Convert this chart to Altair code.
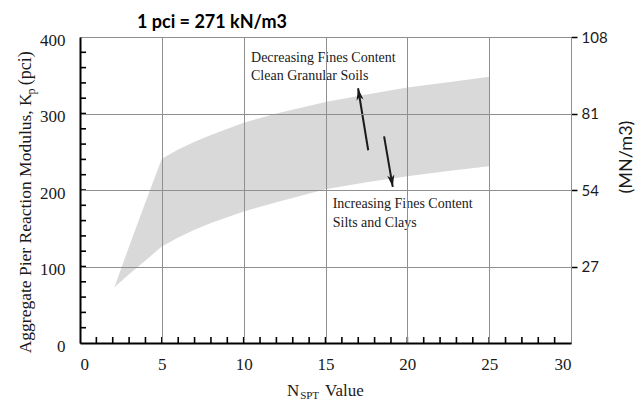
import altair as alt
import numpy as np
import pandas as pd

# ---------------- data ----------------
n_spt = [2.1, 3, 4, 5, 6, 7, 8, 10, 12, 15, 17.5, 20, 22.5, 25]
kp_low = [73, 90, 108, 126, 138, 148, 157, 172, 184, 201, 210, 218, 225, 231]
kp_high = [73, 126, 184, 241, 253, 263, 272, 288, 300, 315, 325, 334, 341, 348]

x_ticks = [0, 5, 10, 15, 20, 25, 30]
y_ticks = [0, 100, 200, 300, 400]
mn_ticks = [27, 54, 81, 108]
x_minor = list(range(1, 30))
y_minor = list(range(20, 400, 20))

note_lines = ["Decreasing Fines Content", "Clean Granular Soils",
              "Increasing Fines Content", "Silts and Clays"]
note_x = [10.45, 10.45, 15.44, 15.44]
note_y = [367, 344, 176, 152]

arrow_x0 = [17.61, 18.58]
arrow_y0 = [252, 270]
arrow_x1 = [16.99, 19.11]
arrow_y1 = [333, 204]

title_text = ["1 pci = 271 kN/m3"]
title_x = [3.48]
title_y = [412]

xtitle_text = ["N", "SPT", "Value"]
xtitle_x = [12.65, 13.45, 14.97]
xtitle_y = [-69.5, -73, -69.5]
xtitle_size = [17, 11, 17]

ytitle_text = ["Aggregate Pier Reaction Modulus, K", "p", "(pci)"]
ytitle_x = [-2.99, -2.78, -2.99]
ytitle_y = [-13.5, 325, 337]
ytitle_size = [17.5, 12, 18]

right_title = ["(MN/m3)"]
right_title_x = [33.4]
right_title_y = [243]

# ---------------- layout / style ----------------
W, H = 491, 306
XMAX, YMAX, MNMAX = 30, 400, 108
serif = "Liberation Serif"
sans = "Lato"
ink = "#1a1a1a"
grid_col = "#8f8f8f"

xs = alt.Scale(domain=[0, XMAX], nice=False, zero=False)
ys = alt.Scale(domain=[0, YMAX], nice=False, zero=False)

x_axis = alt.Axis(values=x_ticks, title=None, grid=True, gridColor=grid_col, gridWidth=1,
                  domain=True, domainColor="black", domainWidth=2, ticks=False,
                  labelFont=serif, labelFontSize=17, labelColor=ink, labelPadding=13,
                  format="d", zindex=1)
y_axis = alt.Axis(values=y_ticks, title=None, grid=True, gridColor=grid_col, gridWidth=1,
                  domain=True, domainColor="black", domainWidth=2, ticks=False,
                  labelFont=serif, labelFontSize=17, labelColor=ink, labelPadding=15,
                  labelOffset=3, format="d", zindex=1)


def X(field):
    return alt.X(field, type="quantitative", scale=xs, axis=x_axis)


def Y(field):
    return alt.Y(field, type="quantitative", scale=ys, axis=y_axis)


band_df = pd.DataFrame({"n": n_spt, "lo": kp_low, "hi": kp_high})
band = alt.Chart(band_df).mark_area(color="#d9d9d9", interpolate="linear").encode(
    x=X("n"), y=Y("lo"), y2="hi")

tick_len_y = 6 * YMAX / H
tick_len_x = 6 * XMAX / W
xm_df = pd.DataFrame({"tx": [float(v) for v in x_minor],
                      "tya": [0.0] * len(x_minor),
                      "tyb": [tick_len_y] * len(x_minor)})
ym_df = pd.DataFrame({"ty": [float(v) for v in y_minor],
                      "txa": [0.0] * len(y_minor),
                      "txb": [tick_len_x] * len(y_minor)})
xminor = alt.Chart(xm_df).mark_rule(color="black", strokeWidth=1.6).encode(
    x=X("tx"), y=Y("tya"), y2=alt.Y2("tyb"))
yminor = alt.Chart(ym_df).mark_rule(color="black", strokeWidth=1.6).encode(
    y=Y("ty"), x=X("txa"), x2=alt.X2("txb"))

ax0 = np.array(arrow_x0); ay0 = np.array(arrow_y0)
ax1 = np.array(arrow_x1); ay1 = np.array(arrow_y1)
dxp = (ax1 - ax0) * W / XMAX
dyp = -(ay1 - ay0) * H / YMAX
ang = (np.degrees(np.arctan2(dxp, -dyp)) + 360) % 360
arr_df = pd.DataFrame({"x0": ax0, "y0": ay0, "x1": ax1, "y1": ay1, "ang": ang})
arrow_lines = alt.Chart(arr_df).mark_rule(color=ink, strokeWidth=2).encode(
    x=X("x0"), y=Y("y0"), x2="x1", y2="y1")
head_path = "M0,0L0.5,1.7L0,1.25L-0.5,1.7Z"
arrow_heads = alt.Chart(arr_df).mark_point(shape=head_path, filled=True, size=200,
                                           color=ink, opacity=1, strokeWidth=0).encode(
    x=X("x1"), y=Y("y1"), angle=alt.Angle("ang:Q", scale=None))

notes_df = pd.DataFrame({"t": note_lines, "x": note_x, "y": note_y})
notes = alt.Chart(notes_df).mark_text(font=serif, fontSize=14, align="left",
                                      baseline="alphabetic", color=ink).encode(
    x=X("x"), y=Y("y"), text="t:N")

title_df = pd.DataFrame({"t": title_text, "x": title_x, "y": title_y})
title = alt.Chart(title_df).mark_text(font=sans, fontWeight="bold", fontSize=18, align="left",
                                      baseline="alphabetic", color="black").encode(
    x=X("x"), y=Y("y"), text="t:N")

xt_df = pd.DataFrame({"t": xtitle_text, "x": xtitle_x, "y": xtitle_y, "s": xtitle_size})
xtitle = alt.Chart(xt_df).mark_text(font=serif, align="left", baseline="alphabetic",
                                    color=ink).encode(
    x=X("x"), y=Y("y"), text="t:N", size=alt.Size("s:Q", scale=None, legend=None))

yt_df = pd.DataFrame({"t": ytitle_text, "x": ytitle_x, "y": ytitle_y, "s": ytitle_size})
ytitle = alt.Chart(yt_df).mark_text(font=serif, align="left", baseline="alphabetic",
                                    angle=270, color=ink).encode(
    x=X("x"), y=Y("y"), text="t:N", size=alt.Size("s:Q", scale=None, legend=None))

rt_df = pd.DataFrame({"t": right_title, "x": right_title_x, "y": right_title_y})
rtitle = alt.Chart(rt_df).mark_text(font=sans, fontSize=18, align="center",
                                    baseline="middle", angle=270, color=ink).encode(
    x=X("x"), y=Y("y"), text="t:N")

main = alt.layer(band, xminor, yminor, arrow_lines, arrow_heads, notes, title,
                 xtitle, ytitle, rtitle)

right_df = pd.DataFrame({"mn": mn_ticks})
right = alt.Chart(right_df).mark_point(opacity=0).encode(
    x=alt.value(W),
    y=alt.Y("mn:Q", scale=alt.Scale(domain=[0, MNMAX], nice=False, zero=False),
            axis=alt.Axis(orient="right", values=mn_ticks, title=None, grid=False,
                          domain=False, ticks=True, tickSize=6, tickColor="black",
                          tickWidth=1.5, labelFont=sans, labelFontSize=15,
                          labelColor=ink, labelPadding=4, labelBaseline="middle")))

chart = alt.layer(main, right).resolve_scale(y="independent").properties(
    width=W, height=H,
    padding={"left": 72, "top": 29, "right": 64, "bottom": 59},
    autosize=alt.AutoSizeParams(type="none"),
).configure_view(stroke="black", strokeWidth=2).configure(background="white")

chart.save("out.html", embed_options={"renderer": "svg", "actions": False})
